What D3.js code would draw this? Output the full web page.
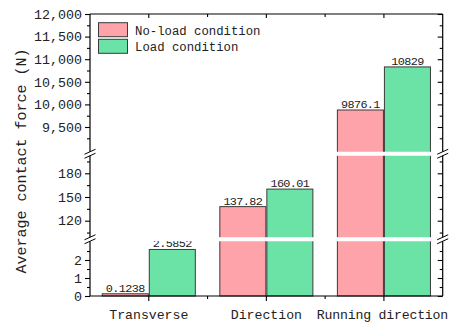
<!DOCTYPE html>
<html>
<head>
<meta charset="utf-8">
<script src="https://cdn.jsdelivr.net/npm/d3@7"></script>
<style>
  html, body { margin: 0; padding: 0; background: #fff; }
  svg { display: block; }
  text { font-family: "Liberation Mono", monospace; fill: #222; }
</style>
</head>
<body>
<svg id="chart" width="449" height="327"></svg>
<script>
// ---- data ----
const categories = ["Transverse", "Direction", "Running direction"];
const seriesNames = ["No-load condition", "Load condition"];
const noLoadValues = [0.1238, 137.82, 9876.1];
const loadValues = [2.5852, 160.01, 10829];
const noLoadLabels = ["0.1238", "137.82", "9876.1"];
const loadLabels = ["2.5852", "160.01", "10829"];
const seriesColors = ["#FFA3AB", "#6BE3A6"];
// broken y axis segments
const segBottomDomain = [0, 3];
const segMiddleDomain = [100, 200];
const segTopDomain = [9000, 12000];
const bottomMajor = [0, 1, 2];
const bottomMinor = [0.5, 1.5, 2.5];
const middleMajor = [120, 150, 180];
const middleMinor = [105, 135, 165, 195];
const topMajor = [9500, 10000, 10500, 11000, 11500, 12000];
const topMinor = [9250, 9750, 10250, 10750, 11250, 11750];

// ---- layout ----
const L = 90, R = 442.7, T = 14, B = 296;
const svg = d3.select("#chart");

const yBottom = d3.scaleLinear().domain(segBottomDomain).range([B, 242]);
const yMiddle = d3.scaleLinear().domain(segMiddleDomain).range([236.5, 157.5]);
const yTop = d3.scaleLinear().domain(segTopDomain).range([149.6, T]);
function yPos(v) {
  if (v <= segBottomDomain[1]) return yBottom(v);
  if (v <= segMiddleDomain[1]) return yMiddle(v);
  return yTop(v);
}
const breaks = [(yTop.range()[0] + yMiddle.range()[1]) / 2 + 0.2,
                (yMiddle.range()[0] + yBottom.range()[1]) / 2];

const x0 = d3.scaleBand().domain(categories).range([L, R]).paddingInner(0).paddingOuter(0);
const x1 = d3.scaleBand().domain(seriesNames).range([0, x0.bandwidth()]).paddingInner(0).paddingOuter(0.25);

const rows = categories.map((c, i) => ({
  cat: c,
  vals: [
    {s: seriesNames[0], v: noLoadValues[i], lab: noLoadLabels[i], col: seriesColors[0]},
    {s: seriesNames[1], v: loadValues[i], lab: loadLabels[i], col: seriesColors[1]}
  ]
}));

// bars
const g = svg.append("g");
const grp = g.selectAll("g.grp").data(rows).join("g")
  .attr("transform", d => `translate(${x0(d.cat)},0)`);
grp.selectAll("rect").data(d => d.vals).join("rect")
  .attr("x", d => x1(d.s) + 0.5)
  .attr("y", d => yPos(d.v))
  .attr("width", x1.bandwidth() - 1)
  .attr("height", d => B - yPos(d.v))
  .attr("fill", d => d.col)
  .attr("stroke", "#3a3a3a")
  .attr("stroke-width", 1);
grp.selectAll("text").data(d => d.vals).join("text")
  .attr("x", d => x1(d.s) + x1.bandwidth() / 2)
  .attr("y", d => yPos(d.v) - 2)
  .attr("text-anchor", "middle")
  .attr("font-size", 11.8)
  .attr("letter-spacing", -0.6)
  .text(d => d.lab);

// white break bands
breaks.forEach(c => {
  svg.append("rect").attr("x", L - 1).attr("y", c - 2).attr("width", R - L + 2.5).attr("height", 4).attr("fill", "#fff");
});

// frame lines
const frame = svg.append("g").attr("stroke", "#000").attr("stroke-width", 1.2);
frame.append("line").attr("x1", L).attr("x2", R).attr("y1", T).attr("y2", T);
frame.append("line").attr("x1", L).attr("x2", R).attr("y1", B).attr("y2", B);
frame.append("line").attr("x1", L).attr("x2", L).attr("y1", T).attr("y2", breaks[0] - 2);
frame.append("line").attr("x1", L).attr("x2", L).attr("y1", breaks[0] + 2).attr("y2", breaks[1] - 2);
frame.append("line").attr("x1", L).attr("x2", L).attr("y1", breaks[1] + 2).attr("y2", B);
frame.append("line").attr("x1", R).attr("x2", R).attr("y1", T).attr("y2", breaks[0] - 2);
frame.append("line").attr("x1", R).attr("x2", R).attr("y1", breaks[0] + 2).attr("y2", breaks[1] - 2);
frame.append("line").attr("x1", R).attr("x2", R).attr("y1", breaks[1] + 2).attr("y2", B);

// y axes per segment
function styleAxis(sel) {
  sel.select(".domain").remove();
  sel.selectAll("line").attr("stroke", "#000").attr("stroke-width", 1.1);
  sel.selectAll("text").attr("font-size", 13.3).style("font-family", "'Liberation Mono', monospace").attr("fill", "#222");
}
const segs = [
  {sc: yBottom, major: bottomMajor, minor: bottomMinor, fmt: d3.format("d")},
  {sc: yMiddle, major: middleMajor, minor: middleMinor, fmt: d3.format("d")},
  {sc: yTop, major: topMajor, minor: topMinor, fmt: d3.format(",")}
];
segs.forEach(s => {
  svg.append("g").attr("transform", `translate(${L},0)`)
    .call(d3.axisLeft(s.sc).tickValues(s.major).tickSize(5).tickPadding(3).tickFormat(s.fmt)).call(styleAxis);
  svg.append("g").attr("transform", `translate(${L},0)`)
    .call(d3.axisLeft(s.sc).tickValues(s.minor).tickSize(3).tickFormat("")).call(styleAxis);
  svg.append("g").attr("transform", `translate(${R},0)`)
    .call(d3.axisLeft(s.sc).tickValues(s.major).tickSize(5).tickFormat("")).call(styleAxis)
    .selectAll("line").attr("x2", -5);
  svg.append("g").attr("transform", `translate(${R},0)`)
    .call(d3.axisLeft(s.sc).tickValues(s.minor).tickSize(3).tickFormat("")).call(styleAxis)
    .selectAll("line").attr("x2", -3);
});

// x axis (bottom) major ticks at centers, minor at boundaries
const xAxisG = svg.append("g").attr("transform", `translate(0,${B})`)
  .call(d3.axisBottom(x0.copy().range([L, R])).tickSize(5).tickPadding(9));
xAxisG.select(".domain").remove();
xAxisG.selectAll("line").attr("stroke", "#000").attr("stroke-width", 1.1);
xAxisG.selectAll("text").attr("font-size", 13.2).style("font-family", "'Liberation Mono', monospace").attr("fill", "#222")
  .filter(d => d === "Running direction")
  .attr("text-anchor", "end").attr("x", 448 - x0("Running direction") - x0.bandwidth() / 2)
  .attr("letter-spacing", -0.2);
const boundaries = categories.slice(1).map(c => x0(c));
svg.append("g").selectAll("line").data(boundaries).join("line")
  .attr("x1", d => d).attr("x2", d => d).attr("y1", B).attr("y2", B + 3)
  .attr("stroke", "#000").attr("stroke-width", 1.1);
// top mirrored ticks
svg.append("g").selectAll("line").data(categories).join("line")
  .attr("x1", d => x0(d) + x0.bandwidth() / 2).attr("x2", d => x0(d) + x0.bandwidth() / 2)
  .attr("y1", T).attr("y2", T + 4).attr("stroke", "#000").attr("stroke-width", 1.1);
svg.append("g").selectAll("line").data(boundaries).join("line")
  .attr("x1", d => d).attr("x2", d => d).attr("y1", T).attr("y2", T + 3)
  .attr("stroke", "#000").attr("stroke-width", 1.1);

// break slashes
[L, R].forEach(xx => {
  breaks.forEach(c => {
    [-2, 2].forEach(d => {
      svg.append("line")
        .attr("x1", xx - 5.5).attr("y1", c + d + 2.5)
        .attr("x2", xx + 5.5).attr("y2", c + d - 2.5)
        .attr("stroke", "#000").attr("stroke-width", 1);
    });
  });
});

// y title
svg.append("text")
  .attr("transform", `translate(26,${161}) rotate(-90)`)
  .attr("text-anchor", "middle")
  .attr("font-size", 15)
  .text("Average contact force (N)");

// legend
const leg = svg.append("g");
seriesNames.forEach((s, i) => {
  leg.append("rect").attr("x", 98.5).attr("y", 22.7 + i * 16.6).attr("width", 29).attr("height", 14)
    .attr("fill", seriesColors[i]).attr("stroke", "#3a3a3a").attr("stroke-width", 1);
  leg.append("text").attr("x", 135).attr("y", 35 + i * 16.3).attr("font-size", 12.3).text(s);
});
</script>
</body>
</html>
